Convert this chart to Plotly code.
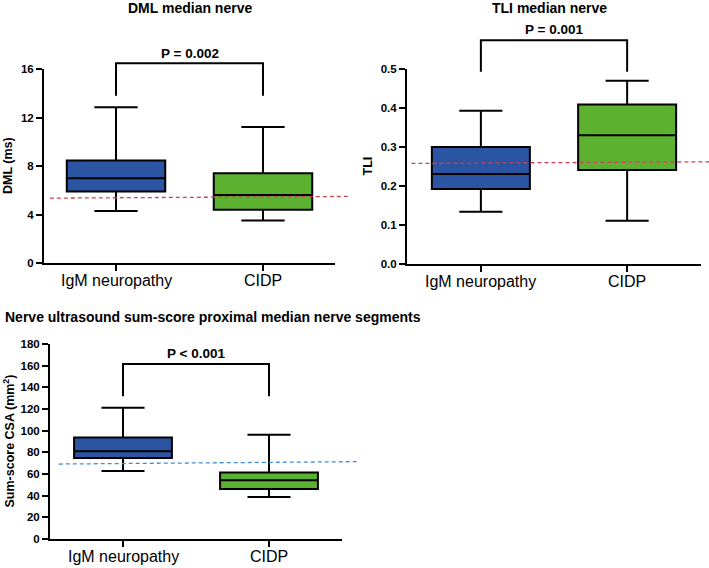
import plotly.graph_objects as go

# ---------------- data ----------------
groups = ["IgM neuropathy", "CIDP"]
# five-number summaries: [min, q1, median, q3, max]
dml_igm = [4.28, 5.9, 7.0, 8.45, 12.84]
dml_cidp = [3.51, 4.39, 5.6, 7.41, 11.22]
tli_igm = [0.134, 0.192, 0.231, 0.300, 0.393]
tli_cidp = [0.111, 0.241, 0.330, 0.409, 0.470]
csa_igm = [62.8, 74.8, 80.9, 93.8, 121.2]
csa_cidp = [38.8, 46.2, 54.2, 61.5, 96.3]
# cut-off (dashed) lines: [left value, right value]
dml_cutoff = [5.35, 5.49]
tli_cutoff = [0.258, 0.262]
csa_cutoff = [69.2, 71.4]
p_labels = ["P = 0.002", "P = 0.001", "P < 0.001"]
titles = ["DML median nerve", "TLI median nerve",
          "Nerve ultrasound sum-score proximal median nerve segments"]
ytitles = ["DML (ms)", "TLI", "Sum-score CSA (mm<sup>2</sup>)"]
dml_ticks = [0, 4, 8, 12, 16]
tli_ticks = [0.0, 0.1, 0.2, 0.3, 0.4, 0.5]
csa_ticks = [0, 20, 40, 60, 80, 100, 120, 140, 160, 180]

BLUE = "#2b55a3"
GREEN = "#5db130"
FONT = "Liberation Sans, Arial, sans-serif"
W, H = 709, 568

fig = go.Figure()

panels = [
    dict(ax="", igm=dml_igm, cidp=dml_cidp, cut=dml_cutoff, cutcol="#cc4451",
         yr=[0, 16], ticks=dml_ticks, fmt="{:g}",
         xpx=[44, 335], ypx=[69, 263], xr=[-0.49, 1.49],
         br=[16.47, 13.8], ptxt=17.3, cutx=[0.02, 1.05],
         title_xy=(190, 8, "center"), ytit_x=8),
    dict(ax="2", igm=tli_igm, cidp=tli_cidp, cut=tli_cutoff, cutcol="#cc4451",
         yr=[0, 0.5], ticks=tli_ticks, fmt="{:.1f}",
         xpx=[407, 701], ypx=[69, 264], xr=[-0.505, 1.505],
         br=[0.574, 0.493], ptxt=0.6015, cutx=[0.015, 1.03],
         title_xy=(549, 8, "center"), ytit_x=367),
    dict(ax="3", igm=csa_igm, cidp=csa_cidp, cut=csa_cutoff, cutcol="#3f8fd6",
         yr=[0, 180], ticks=csa_ticks, fmt="{:g}",
         xpx=[50, 342], ypx=[344, 539], xr=[-0.5, 1.5],
         br=[161.5, 131.7], ptxt=171, cutx=[0.03, 1.055],
         title_xy=(3, 317, "left"), ytit_x=8),
]

annotations = []
shapes = []
for i, p in enumerate(panels):
    ax = p["ax"]
    xa, ya = "x" + ax, "y" + ax
    for name, vals, col in [(groups[0], p["igm"], BLUE), (groups[1], p["cidp"], GREEN)]:
        fig.add_trace(go.Box(
            x=[name], lowerfence=[vals[0]], q1=[vals[1]], median=[vals[2]],
            q3=[vals[3]], upperfence=[vals[4]],
            fillcolor=col, line=dict(color="black", width=2),
            width=0.67, whiskerwidth=0.44, showlegend=False,
            hoverinfo="skip", xaxis=xa, yaxis=ya, boxpoints=False))

    x0, x1 = p["xpx"][0] / W, p["xpx"][1] / W
    y0, y1 = 1 - p["ypx"][1] / H, 1 - p["ypx"][0] / H
    axis_common = dict(showgrid=False, zeroline=False, showline=True,
                       linecolor="black", linewidth=2, ticks="outside",
                       ticklen=6, tickwidth=2, tickcolor="black",
                       automargin=False)
    fig.update_layout(**{
        "xaxis" + ax: dict(domain=[x0, x1], anchor=ya, type="category",
                           categoryorder="array", categoryarray=groups,
                           range=p["xr"], showticklabels=False,
                           **axis_common),
        "yaxis" + ax: dict(domain=[y0, y1], anchor=xa, range=p["yr"],
                           tickvals=p["ticks"],
                           ticktext=[p["fmt"].format(t) for t in p["ticks"]],
                           tickfont=dict(family=FONT, size=11.5, color="black",
                                         weight="bold"),
                           **axis_common),
    })

    span = p["yr"][1] - p["yr"][0]
    frac = lambda v: (v - p["yr"][0]) / span
    # category labels
    for k, g in enumerate(groups):
        annotations.append(dict(text=g, x=k, xref=xa, y=0, yref=ya + " domain",
                                yanchor="middle", xanchor="center", yshift=-17,
                                showarrow=False,
                                font=dict(family=FONT, size=16, color="black")))
    # significance bracket
    shapes.append(dict(type="path", xref=xa, yref=ya + " domain",
                       path="M 0,{a} L 0,{b} L 1,{b} L 1,{a}".format(
                           a=frac(p["br"][1]), b=frac(p["br"][0])),
                       line=dict(color="black", width=2)))
    annotations.append(dict(text="<b>" + p_labels[i] + "</b>", x=0.5, xref=xa,
                            y=frac(p["ptxt"]), yref=ya + " domain",
                            showarrow=False, xanchor="center", yanchor="middle",
                            font=dict(family=FONT, size=13.5, color="black")))
    # cut-off dashed line
    shapes.append(dict(type="line", xref=xa + " domain", yref=ya,
                       x0=p["cutx"][0], x1=p["cutx"][1],
                       y0=p["cut"][0], y1=p["cut"][1],
                       line=dict(color=p["cutcol"], width=1.3, dash="4px,3px"),
                       layer="above"))
    # panel title
    tx, ty, tanc = p["title_xy"]
    annotations.append(dict(text="<b>" + titles[i] + "</b>", x=tx / W, xref="paper",
                            y=1 - ty / H, yref="paper", showarrow=False,
                            xanchor=tanc, yanchor="middle",
                            font=dict(family=FONT, size=14, color="black")))
    # y-axis title
    annotations.append(dict(text="<b>" + ytitles[i] + "</b>", x=p["ytit_x"] / W,
                            xref="paper", y=0.5, yref=ya + " domain",
                            textangle=-90, showarrow=False, xanchor="center",
                            yanchor="middle",
                            font=dict(family=FONT, size=12.5, color="black")))

fig.update_layout(width=W, height=H,
                  margin=dict(l=0, r=0, t=0, b=0, pad=0, autoexpand=False),
                  paper_bgcolor="white", plot_bgcolor="white",
                  boxmode="overlay", shapes=shapes, annotations=annotations,
                  showlegend=False)

fig.write_html("out.html", config={"displayModeBar": False},
               post_script="document.body.style.margin='0';document.body.style.padding='0';")
